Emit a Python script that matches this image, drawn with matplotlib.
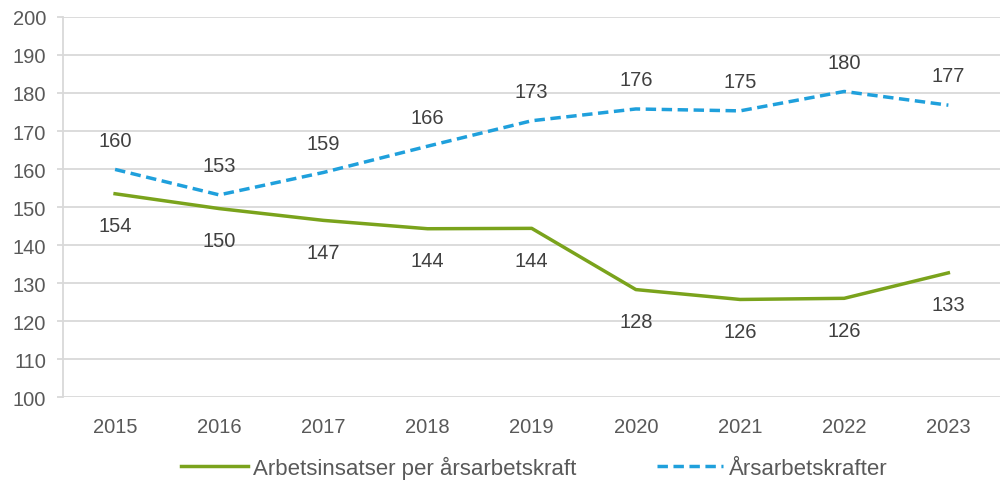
import matplotlib.pyplot as plt

years = ["2015", "2016", "2017", "2018", "2019", "2020", "2021", "2022", "2023"]
arbetsinsatser = [153.5, 149.6, 146.5, 144.3, 144.4, 128.3, 125.7, 126.0, 132.7]
arsarbetskrafter = [159.9, 153.2, 159.1, 166.0, 172.7, 175.8, 175.3, 180.4, 176.8]
green_labels = ["154", "150", "147", "144", "144", "128", "126", "126", "133"]
blue_labels = ["160", "153", "159", "166", "173", "176", "175", "180", "177"]

plt.rcParams["font.family"] = ["Liberation Sans", "DejaVu Sans"]
text_color = "#595959"
green = "#7AA31C"
blue = "#1FA0DC"

fig = plt.figure(figsize=(10.08, 4.85), dpi=100)
ax = fig.add_axes([0.0625, 0.179, 0.93, 0.784])

x = list(range(len(years)))
ax.plot(x, arbetsinsatser, color=green, linewidth=2.5,
        label="Arbetsinsatser per årsarbetskraft")
ax.plot(x, arsarbetskrafter, color=blue, linewidth=2.5, linestyle=(0, (3, 1.6)),
        label="Årsarbetskrafter")

for i in x:
    ax.annotate(blue_labels[i], (i, arsarbetskrafter[i]), xytext=(0, 21),
                textcoords="offset points", ha="center", va="center",
                fontsize=14.5, color="#404040")
    ax.annotate(green_labels[i], (i, arbetsinsatser[i]), xytext=(0, -23),
                textcoords="offset points", ha="center", va="center",
                fontsize=14.5, color="#404040")

ax.set_xlim(-0.5, 8.5)
ax.set_ylim(100, 200)
ax.set_yticks(range(100, 201, 10))
ax.set_xticks(x)
ax.set_xticklabels(years)
ax.yaxis.grid(True, color="#D9D9D9", linewidth=1.3)
ax.set_axisbelow(True)
for side in ["top", "right", "bottom"]:
    ax.spines[side].set_visible(False)
ax.spines["left"].set_color("#D9D9D9")
ax.spines["left"].set_linewidth(1.3)
ax.tick_params(axis="y", colors="#D9D9D9", length=4, width=1.3, labelcolor=text_color,
               labelsize=14.5, pad=8)
ax.tick_params(axis="x", length=0, labelcolor=text_color, labelsize=14.5, pad=14)

fig.legend(loc="center", bbox_to_anchor=(0.53, 0.035), ncol=2, frameon=False,
           fontsize=16, labelcolor=text_color, handlelength=3.0, handletextpad=0.25,
           columnspacing=3.6)

fig.savefig("out.png", dpi=100)
